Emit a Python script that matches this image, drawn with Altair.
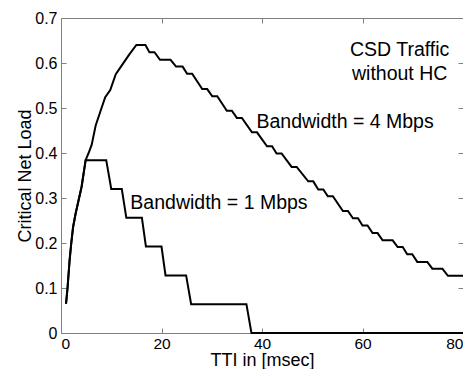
import altair as alt
import pandas as pd

# ---- data ----
x_1mbps = [1, 1.3, 1.7, 2, 2.4, 2.9, 3.4, 4.1, 4.9, 9.0, 10.0, 12.1, 13.0, 16.1, 16.9,
           20.0, 20.8, 24.9, 25.9, 36.9, 37.9, 80]
y_1mbps = [0.065, 0.10, 0.16, 0.195, 0.235, 0.265, 0.29, 0.325, 0.384, 0.384, 0.32, 0.32,
           0.256, 0.256, 0.192, 0.192, 0.128, 0.128, 0.064, 0.064, 0.0, 0.0]

x_4mbps = [1, 1.3, 1.7, 2, 2.4, 2.9, 3.4, 4.1, 4.9, 5.5, 6.1, 6.9, 7.8, 8.8, 9.8, 10.9,
           12.0, 13.6, 15.0, 16.8, 17.6, 18.6, 19.7, 21.8, 22.9, 24.2, 25.1, 26.1, 28.1,
           29.1, 30.1, 31.1, 33.0, 34.0, 35.0, 36.0, 38.0, 39.0, 41.0, 42.0, 42.9, 43.9,
           45.9, 46.9, 49.2, 50.2, 51.2, 52.2, 53.1, 54.1, 56.1, 57.1, 58.1, 59.1, 60.0,
           61.0, 62.0, 63.0, 64.0, 66.0, 67.0, 68.0, 68.9, 69.9, 70.9, 72.9, 73.9, 75.9,
           77.0, 80.0]
y_4mbps = [0.065, 0.10, 0.16, 0.195, 0.235, 0.265, 0.29, 0.325, 0.384, 0.40, 0.418, 0.461,
           0.491, 0.524, 0.540, 0.575, 0.593, 0.619, 0.640, 0.640, 0.624, 0.624, 0.607,
           0.607, 0.592, 0.592, 0.576, 0.576, 0.542, 0.542, 0.526, 0.526, 0.494, 0.494,
           0.478, 0.478, 0.446, 0.446, 0.415, 0.415, 0.399, 0.399, 0.369, 0.369, 0.337,
           0.337, 0.319, 0.319, 0.304, 0.304, 0.271, 0.271, 0.255, 0.255, 0.239, 0.239,
           0.222, 0.222, 0.206, 0.206, 0.191, 0.191, 0.175, 0.175, 0.158, 0.158, 0.143,
           0.143, 0.127, 0.127]

x_ticks = [0, 20, 40, 60, 80]
y_ticks = [0, 0.1, 0.2, 0.3, 0.4, 0.5, 0.6, 0.7]

band_labels = ["Bandwidth = 4 Mbps", "Bandwidth = 1 Mbps"]
band_label_x = [38.9, 13.8]
band_label_y = [0.470, 0.290]

note_labels = ["CSD Traffic", "without HC"]
note_label_x = [67.4, 67.4]
note_label_y = [0.630, 0.575]

# ---- tables ----
rows = []
for i, (x, y) in enumerate(zip(x_1mbps, y_1mbps)):
    rows.append({"series": "1 Mbps", "x": x, "y": y, "i": i})
for i, (x, y) in enumerate(zip(x_4mbps, y_4mbps)):
    rows.append({"series": "4 Mbps", "x": x, "y": y, "i": i})
df = pd.DataFrame(rows)

band_df = pd.DataFrame({"x": band_label_x, "y": band_label_y, "text": band_labels})
note_df = pd.DataFrame({"x": note_label_x, "y": note_label_y, "text": note_labels})

FONT = "Liberation Sans"
GRAY = "#808080"

xscale = alt.Scale(domain=[0, 80], nice=False, zero=False)
yscale = alt.Scale(domain=[0, 0.7], nice=False)

main_x_axis = alt.Axis(values=x_ticks, ticks=False, domain=False, grid=False,
                       title="TTI in [msec]", labelFontSize=15.5, titleFontSize=18,
                       labelPadding=3, titlePadding=0, labelColor="black",
                       titleColor="black", labelFont=FONT, titleFont=FONT,
                       titleFontWeight="normal")
main_y_axis = alt.Axis(values=y_ticks, format=".1~f", ticks=False, domain=False, grid=False,
                       title="Critical Net Load", labelFontSize=16, titleFontSize=18,
                       labelPadding=4, titlePadding=0, labelColor="black",
                       titleColor="black", labelFont=FONT, titleFont=FONT,
                       titleFontWeight="normal")

line = alt.Chart(df).mark_line(color="black", strokeWidth=2).encode(
    x=alt.X("x:Q", scale=xscale, axis=main_x_axis),
    y=alt.Y("y:Q", scale=yscale, axis=main_y_axis),
    detail="series:N",
    order="i:Q",
)


def tick_axis(orient, values):
    return alt.Axis(orient=orient, values=values, offset=-5, tickSize=5, ticks=True,
                    tickColor=GRAY, labels=False, domain=False, grid=False, title=None)


ticks_bl = alt.Chart(df).mark_point(opacity=0).encode(
    x=alt.X("x:Q", scale=xscale, axis=tick_axis("bottom", x_ticks)),
    y=alt.Y("y:Q", scale=yscale, axis=tick_axis("left", y_ticks)),
)
ticks_tr = alt.Chart(df).mark_point(opacity=0).encode(
    x=alt.X("x:Q", scale=xscale, axis=tick_axis("top", x_ticks)),
    y=alt.Y("y:Q", scale=yscale, axis=tick_axis("right", y_ticks)),
)

band_text = alt.Chart(band_df).mark_text(align="left", baseline="middle", font=FONT,
                                         fontSize=19.5, color="black").encode(
    x=alt.X("x:Q", scale=xscale, axis=None),
    y=alt.Y("y:Q", scale=yscale, axis=None),
    text="text:N",
)
note_text = alt.Chart(note_df).mark_text(align="center", baseline="middle", font=FONT,
                                         fontSize=19.5, color="black").encode(
    x=alt.X("x:Q", scale=xscale, axis=None),
    y=alt.Y("y:Q", scale=yscale, axis=None),
    text="text:N",
)

chart = alt.layer(line, ticks_bl, ticks_tr, band_text, note_text).resolve_axis(
    x="independent", y="independent"
).properties(
    width=402,
    height=315,
    autosize=alt.AutoSizeParams(type="none"),
    padding={"left": 53, "top": 10, "right": 0, "bottom": 36},
    background="white",
).configure_view(stroke=GRAY, strokeWidth=1)

chart.save("out.html", embed_options={"renderer": "svg", "actions": False})
